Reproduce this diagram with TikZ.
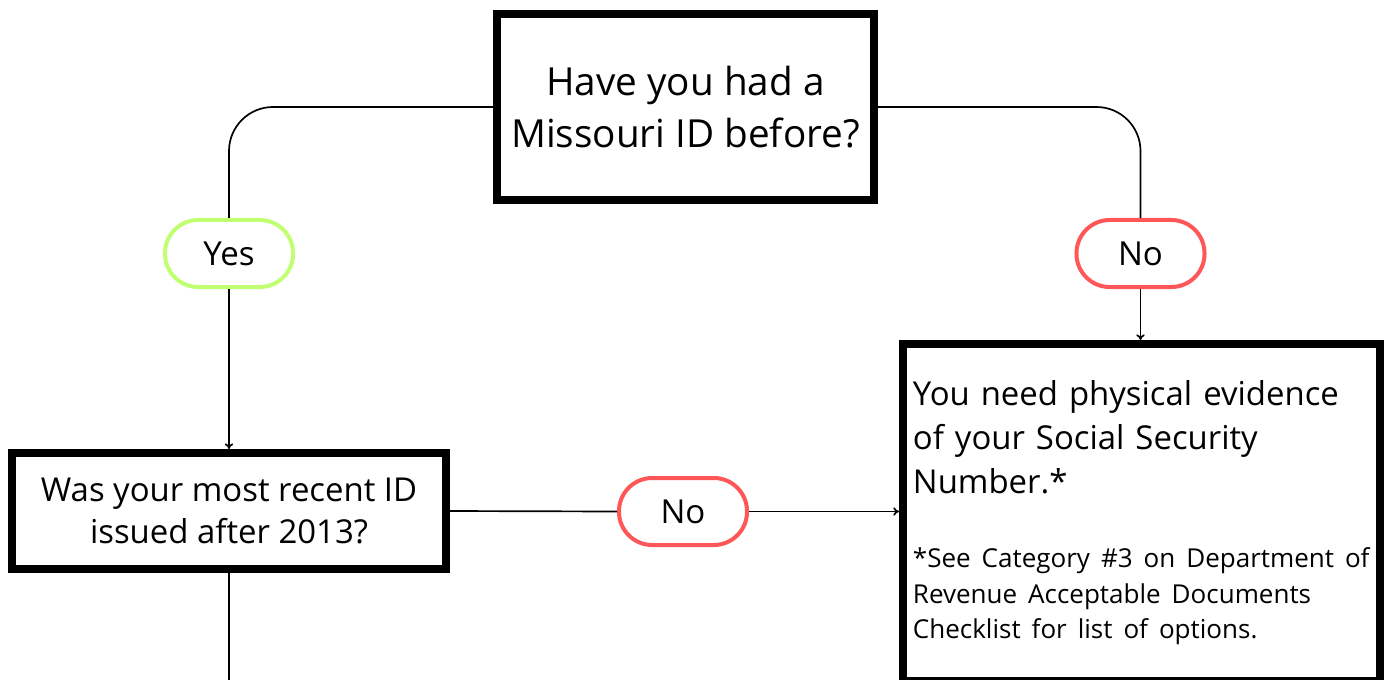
\documentclass[tikz,border=0pt]{standalone}
\usepackage{fontspec}
\setmainfont{Open Sans}
\usetikzlibrary{positioning,arrows.meta}
\definecolor{yesgreen}{HTML}{C1FF72}
\definecolor{nored}{HTML}{FF5757}
\tikzset{
  qbox/.style={draw, line width=0.2cm, align=center, inner sep=0pt},
  pill/.style={draw, line width=0.1cm, rounded corners=0.83cm, minimum width=3.2cm, minimum height=1.675cm, font=\fontsize{23.5}{28}\selectfont},
  link/.style={line width=1.2pt},
  arrow/.style={link, -{To[length=4pt,width=6pt]}},
}
\begin{document}
\begin{tikzpicture}[x=0.025cm, y=-0.025cm]
    \clip (0,0) rectangle (1395,679);
    % questions
    \node[qbox, minimum width=9.425cm, minimum height=4.65cm, font=\fontsize{27.5}{37}\selectfont] (had) at (685.5,107) {Have you had a\\ Missouri ID before?};
    \node[qbox, minimum width=10.85cm, minimum height=2.9cm, font=\fontsize{23.4}{30.5}\selectfont] (recent) at (229,511) {Was your most recent ID\\ issued after 2013?};
    % answer
    \node[qbox, anchor=north, text width=11.425cm, align=left, inner xsep=0.25cm, inner ysep=0.92cm, font=\fontsize{23.4}{31.3}\selectfont] (need) at (1141.5,340)
        {You need physical evidence\\ of your Social Security\\ Number.*\par\vspace{27.7pt}
         \fontsize{18.5}{25}\selectfont *See Category \#3 on Department of\\ Revenue Acceptable Documents\\ Checklist for list of options.\par\vspace{1cm}};
    % choices
    \node[pill, draw=yesgreen] (yes) at (229,253.5) {Yes};
    \node[pill, draw=nored] (noA) at (1140.5,253.5) {No};
    \node[pill, draw=nored] (noB) at (683,511.5) {No};
    \coordinate (out) at (231,700);
    % connectors
    \draw[link, rounded corners=1.1cm] (had.west) -| (yes.north);
    \draw[link, rounded corners=1.1cm] (had.east) -| (noA.north);
    \draw[arrow] (yes.south) -- (recent.north);
    \draw[arrow] (noA.south) -- (noA.south |- need.north);
    \draw[link] (recent.east) -- (noB.west);
    \draw[arrow] (noB.east) -- (noB.east -| need.west);
    \draw[link] (recent.south) -- (recent.south |- out);
\end{tikzpicture}
\end{document}
